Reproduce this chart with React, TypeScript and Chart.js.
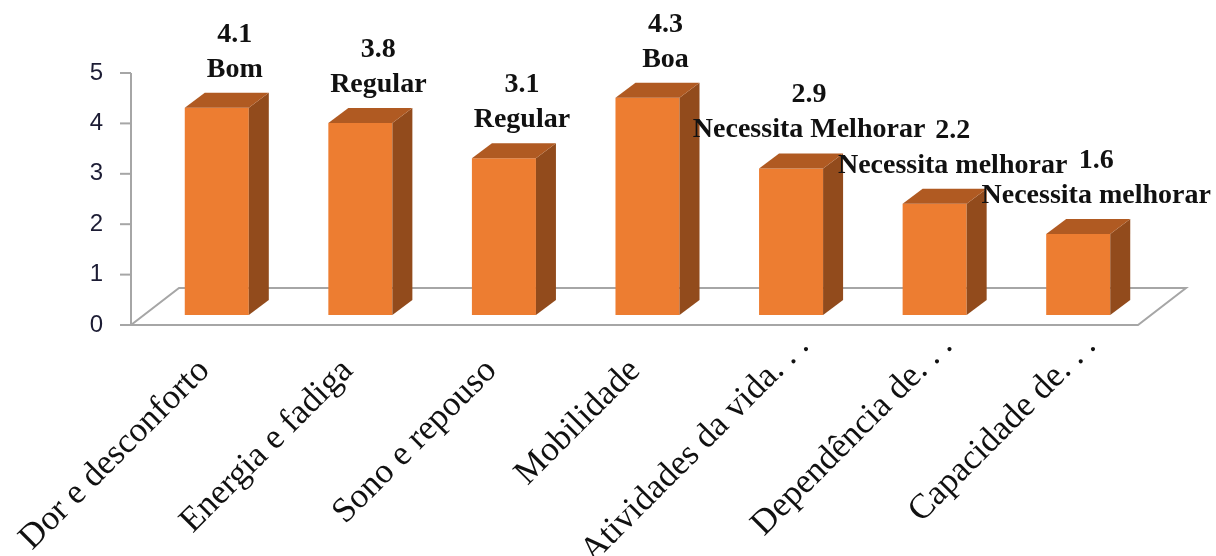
import React, { useEffect, useRef } from "react";
import { Chart, registerables } from "chart.js";

Chart.register(...registerables);

const categories = [
  "Dor e desconforto",
  "Energia e fadiga",
  "Sono e repouso",
  "Mobilidade",
  "Atividades da vida…",
  "Dependência de…",
  "Capacidade de…",
];
const scores = [4.1, 3.8, 3.1, 4.3, 2.9, 2.2, 1.6];
const ratings = [
  "Bom",
  "Regular",
  "Regular",
  "Boa",
  "Necessita Melhorar",
  "Necessita melhorar",
  "Necessita melhorar",
];
const yTickValues = [0, 1, 2, 3, 4, 5];

const FRONT = "#ED7D31";
const TOP = "#B05A22";
const SIDE = "#924B1C";
const AXIS_GRAY = "#A6A6A6";
const DEPTH_X = 20;
const DEPTH_Y = -15;
const FLOOR_DX = 48;
const FLOOR_DY = -37;

const threeDPlugin = {
  id: "threeD",
  beforeDatasetsDraw(chart: any) {
    const { ctx, chartArea, scales } = chart;
    const y = scales.y;
    const y0 = y.getPixelForValue(0);
    const yTop = y.getPixelForValue(5);
    const fl = chartArea.left - 14;
    const fr = chartArea.right - 12;
    ctx.save();
    ctx.strokeStyle = AXIS_GRAY;
    ctx.lineWidth = 2;
    // floor
    ctx.beginPath();
    ctx.moveTo(fl, y0);
    ctx.lineTo(fr, y0);
    ctx.lineTo(fr + FLOOR_DX, y0 + FLOOR_DY);
    ctx.lineTo(fl + FLOOR_DX, y0 + FLOOR_DY);
    ctx.closePath();
    ctx.stroke();
    // y axis line
    ctx.beginPath();
    ctx.moveTo(fl, yTop);
    ctx.lineTo(fl, y0);
    ctx.stroke();
    // tick marks
    yTickValues.forEach((v) => {
      const py = y.getPixelForValue(v);
      ctx.beginPath();
      ctx.moveTo(fl - 11, py);
      ctx.lineTo(fl, py);
      ctx.stroke();
    });
    ctx.restore();
  },
  afterDatasetsDraw(chart: any) {
    const { ctx, scales } = chart;
    const meta = chart.getDatasetMeta(0);
    ctx.save();
    meta.data.forEach((bar: any) => {
      const { x, y, base, width } = bar.getProps(["x", "y", "base", "width"], true);
      const l = x - width / 2;
      const r = x + width / 2;
      // side face
      ctx.fillStyle = SIDE;
      ctx.beginPath();
      ctx.moveTo(r, y);
      ctx.lineTo(r + DEPTH_X, y + DEPTH_Y);
      ctx.lineTo(r + DEPTH_X, base + DEPTH_Y);
      ctx.lineTo(r, base);
      ctx.closePath();
      ctx.fill();
      // top face
      ctx.fillStyle = TOP;
      ctx.beginPath();
      ctx.moveTo(l, y);
      ctx.lineTo(l + DEPTH_X, y + DEPTH_Y);
      ctx.lineTo(r + DEPTH_X, y + DEPTH_Y);
      ctx.lineTo(r, y);
      ctx.closePath();
      ctx.fill();
    });

    // value labels
    ctx.fillStyle = "#111111";
    ctx.font = "bold 28px 'Liberation Serif', 'Times New Roman', serif";
    ctx.textAlign = "center";
    ctx.textBaseline = "alphabetic";
    meta.data.forEach((bar: any, i: number) => {
      const { x, y } = bar.getProps(["x", "y"], true);
      const cx = x + 18;
      ctx.fillText(scores[i].toFixed(1), cx, y - 66);
      ctx.fillText(ratings[i], cx, y - 31);
    });

    // category labels (rotated 45°)
    ctx.font = "35px 'Liberation Serif', 'Times New Roman', serif";
    ctx.textAlign = "right";
    ctx.fillStyle = "#111111";
    const xs = scales.x;
    categories.forEach((c, i) => {
      const px = xs.getPixelForValue(i);
      const truncated = c.endsWith("…");
      const shown = c.replace("…", ". . .");
      const shift = truncated ? 25 : 0;
      ctx.save();
      ctx.translate(px - 6 + shift, 372 - shift);
      ctx.rotate(-Math.PI / 4);
      ctx.fillText(shown, 0, 0);
      ctx.restore();
    });
    ctx.restore();
  },
};

export default function App() {
  const canvasRef = useRef<HTMLCanvasElement | null>(null);

  useEffect(() => {
    const canvas = canvasRef.current;
    if (!canvas) return;
    const chart = new Chart(canvas, {
      type: "bar",
      data: {
        labels: categories,
        datasets: [
          {
            data: scores,
            backgroundColor: FRONT,
            borderWidth: 0,
            yAxisID: "yBar",
            categoryPercentage: 1,
            barPercentage: 0.446,
          },
        ],
      },
      options: {
        responsive: false,
        animation: false,
        devicePixelRatio: 1,
        layout: { padding: { left: 0, right: 66, top: 73, bottom: 231 } },
        plugins: {
          legend: { display: false },
          tooltip: { enabled: false },
          title: { display: false },
        },
        scales: {
          x: { display: false },
          y: {
            position: "left",
            min: 0,
            max: 5,
            afterFit: (scale: any) => {
              scale.width = 145;
            },
            grid: { display: false, drawTicks: false },
            border: { display: false },
            ticks: {
              stepSize: 1,
              padding: 42,
              color: "#1c1c34",
              font: { family: "'Liberation Sans', Arial, sans-serif", size: 24 },
            },
          },
          yBar: {
            display: false,
            min: -0.2,
            max: 4.79,
          },
        },
      },
      plugins: [threeDPlugin],
    } as any);
    return () => chart.destroy();
  }, []);

  return (
    <div
      style={{
        position: "absolute",
        left: 0,
        top: 0,
        width: 1216,
        height: 556,
        background: "#ffffff",
      }}
    >
      <canvas ref={canvasRef} width={1216} height={556} />
    </div>
  );
}
